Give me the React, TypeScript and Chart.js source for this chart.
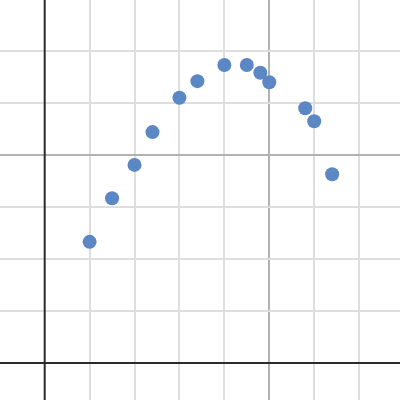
import React, { useEffect, useRef } from "react";
import { Chart, registerables } from "chart.js";

Chart.register(...registerables);

const xValues = [1.0, 1.5, 2.0, 2.4, 3.0, 3.4, 4.0, 4.5, 4.8, 5.0, 5.8, 6.0, 6.4];
const yValues = [2.33, 3.17, 3.81, 4.44, 5.1, 5.42, 5.73, 5.73, 5.58, 5.4, 4.9, 4.65, 3.63];
const xTicks = [0, 1, 2, 3, 4, 5, 6, 7];
const yTicks = [0, 1, 2, 3, 4, 5, 6];
const xMajor = 5;
const yMajor = 4;

const axisLines = {
  id: "axisLines",
  beforeDatasetsDraw(chart: any) {
    const { ctx, chartArea, scales } = chart;
    const x0 = scales.x.getPixelForValue(0);
    const y0 = scales.y.getPixelForValue(0);
    ctx.save();
    ctx.strokeStyle = "#2b2b2b";
    ctx.lineWidth = 2;
    ctx.beginPath();
    ctx.moveTo(x0, chartArea.top);
    ctx.lineTo(x0, chartArea.bottom);
    ctx.moveTo(chartArea.left, y0);
    ctx.lineTo(chartArea.right, y0);
    ctx.stroke();
    ctx.restore();
  },
};

export default function App() {
  const ref = useRef<HTMLCanvasElement>(null);
  useEffect(() => {
    if (!ref.current) return;
    const gridColor = (major: number) => (c: any) => {
      const v = c.tick?.value;
      if (v === 0) return "rgba(0,0,0,0)";
      if (v % major === 0) return "#b2b2b2";
      return "#dedede";
    };
    const chart = new Chart(ref.current, {
      type: "scatter",
      data: {
        datasets: [
          {
            data: xValues.map((x, i) => ({ x, y: yValues[i] })),
            backgroundColor: "#5b87c4",
            borderWidth: 0,
            pointRadius: 7,
            pointHoverRadius: 7,
          },
        ],
      },
      plugins: [axisLines],
      options: {
        animation: false,
        responsive: false,
        layout: { padding: 0, autoPadding: false },
        plugins: { legend: { display: false }, tooltip: { enabled: false } },
        scales: {
          x: {
            type: "linear",
            min: -0.995,
            max: 7.91,
            afterBuildTicks: (axis: any) => {
              axis.ticks = xTicks.map((v) => ({ value: v }));
            },
            ticks: { display: false },
            border: { display: false },
            grid: { drawTicks: false, color: gridColor(xMajor), lineWidth: 2 },
          },
          y: {
            type: "linear",
            min: -0.71,
            max: 6.98,
            afterBuildTicks: (axis: any) => {
              axis.ticks = yTicks.map((v) => ({ value: v }));
            },
            ticks: { display: false },
            border: { display: false },
            grid: { drawTicks: false, color: gridColor(yMajor), lineWidth: 2 },
          },
        },
      },
    });
    return () => chart.destroy();
  }, []);
  return (
    <div style={{ position: "absolute", left: 0, top: 0, width: 400, height: 400, background: "#fff" }}>
      <canvas ref={ref} width={400} height={400} />
    </div>
  );
}
